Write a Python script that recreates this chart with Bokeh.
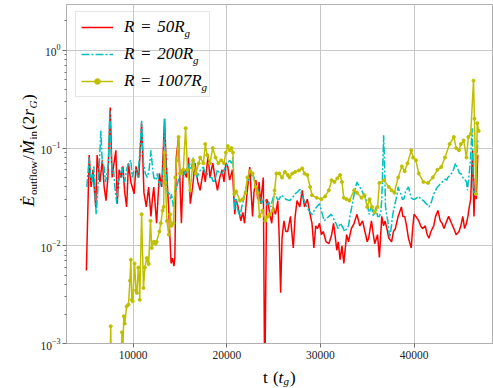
import math
from bokeh.plotting import figure
from bokeh.layouts import row, column
from bokeh.models import Range1d, FixedTicker, Label, Legend, LegendItem
from bokeh.embed import file_html
from bokeh.resources import INLINE

# ---------------- data ----------------
x_ticks = [10000, 20000, 30000, 40000]
y_ticks = [1e-3, 1e-2, 1e-1, 1.0]

labels = ["R\u2004=\u200450R", "R\u2004=\u2004200R", "R\u2004=\u20041007R"]

t50 = [5000, 5300, 5500, 5700, 6000, 6150, 6450, 6700, 6900, 7100,
       7300, 7550, 7750, 7950, 8150, 8300, 8500, 8700, 8900, 9100,
       9300, 9500, 9750, 10100, 10300, 10600, 10900, 11150, 11400, 11650,
       11900, 12050, 12200, 12500, 12800, 13050, 13350, 13500, 13780, 14050,
       14200, 14350, 14450, 14600, 14850, 15000, 15150, 15350, 15700, 15900,
       16100, 16350, 16600, 16900, 17150, 17500, 17700, 18000, 18200, 18500,
       18750, 19000, 19250, 19500, 19700, 19900, 20100, 20300, 20600, 20850,
       21000, 21200, 21500, 21700, 21900, 22100, 22450, 22600, 22750, 22900,
       23100, 23300, 23450, 23600, 23900, 24050, 24250, 24400, 24600, 24800,
       24950, 25200, 25450, 25600, 25750, 25900, 26100, 26300, 26500, 26800,
       27000, 27100, 27300, 27500, 27800, 28050, 28300, 28600, 28900, 29100,
       29300, 29500, 29700, 29900, 30100, 30300, 30600, 30900, 31200, 31400,
       31600, 31750, 31900, 32100, 32300, 32500, 32800, 33000, 33300, 33600,
       33900, 34200, 34500, 34750, 35000, 35150, 35450, 35650, 35800, 36100,
       36300, 36550, 36750, 36900, 37100, 37300, 37600, 37800, 38000, 38300,
       38650, 38800, 39000, 39200, 39400, 39700, 39850, 40000, 40200, 40500,
       40700, 40900, 41200, 41400, 41600, 41800, 42100, 42300, 42550, 42800,
       43000, 43200, 43500, 43700, 44000, 44250, 44500, 44800, 45000, 45200,
       45400, 45600, 45750, 45900, 46050, 46250, 46400, 46550, 46650, 46800]
e50 = [0.0056, 0.085, 0.04, 0.06, 0.025, 0.085, 0.045, 0.075, 0.04, 0.029,
       0.05, 0.26, 0.05, 0.07, 0.095, 0.027, 0.06, 0.05, 0.065, 0.035,
       0.025, 0.07, 0.045, 0.034, 0.065, 0.05, 0.18, 0.035, 0.025, 0.04,
       0.02, 0.03, 0.04, 0.017, 0.055, 0.04, 0.2, 0.08, 0.025, 0.0066,
       0.0075, 0.0062, 0.0075, 0.08, 0.13, 0.045, 0.017, 0.06, 0.05, 0.08,
       0.027, 0.04, 0.07, 0.045, 0.037, 0.06, 0.045, 0.085, 0.05, 0.07,
       0.05, 0.037, 0.05, 0.06, 0.045, 0.07, 0.065, 0.047, 0.06, 0.021,
       0.03, 0.025, 0.018, 0.022, 0.017, 0.03, 0.064, 0.035, 0.02, 0.035,
       0.047, 0.03, 0.045, 0.027, 0.05, 0.0003, 0.03, 0.028, 0.021, 0.017,
       0.025, 0.021, 0.029, 0.012, 0.0033, 0.012, 0.018, 0.014, 0.014, 0.02,
       0.012, 0.0095, 0.02, 0.029, 0.025, 0.037, 0.025, 0.03, 0.021, 0.017,
       0.0095, 0.016, 0.015, 0.017, 0.013, 0.014, 0.011, 0.0105, 0.013, 0.017,
       0.012, 0.009, 0.011, 0.0072, 0.01, 0.0066, 0.013, 0.011, 0.015, 0.017,
       0.021, 0.016, 0.018, 0.014, 0.011, 0.012, 0.018, 0.013, 0.0105, 0.013,
       0.0076, 0.02, 0.016, 0.018, 0.015, 0.012, 0.011, 0.014, 0.015, 0.02,
       0.025, 0.02, 0.02, 0.016, 0.012, 0.0095, 0.015, 0.021, 0.02, 0.018,
       0.016, 0.015, 0.016, 0.013, 0.012, 0.014, 0.016, 0.02, 0.023, 0.018,
       0.017, 0.015, 0.018, 0.02, 0.017, 0.015, 0.013, 0.014, 0.016, 0.02,
       0.015, 0.017, 0.02, 0.025, 0.03, 0.095, 0.02, 0.05, 0.03, 0.085]

t200 = [5050, 5300, 5450, 5600, 5800, 5950, 6050, 6200, 6350, 6550,
        6700, 6900, 7050, 7200, 7350, 7500, 7650, 7750, 7900, 8050,
        8250, 8400, 8550, 8800, 8950, 9100, 9300, 9500, 9750, 9900,
        10100, 10300, 10500, 10700, 10900, 11100, 11300, 11500, 11700, 11900,
        12050, 12200, 12400, 12600, 12800, 13000, 13200, 13350, 13500, 13650,
        13800, 14000, 14100, 14300, 14500, 14650, 14900, 15200, 15400, 15600,
        15800, 16000, 16200, 16400, 16600, 16800, 17000, 17200, 17500, 17700,
        17900, 18200, 18400, 18600, 18800, 19000, 19250, 19500, 19700, 19900,
        20100, 20300, 20500, 20650, 20850, 21000, 21100, 21250, 21400, 21600,
        21800, 22000, 22200, 22450, 22750, 22900, 23100, 23300, 23400, 23550,
        23700, 23900, 24100, 24300, 24500, 24700, 24900, 25100, 25200, 25400,
        25600, 25800, 26000, 26300, 26700, 27000, 27300, 27600, 27800, 28100,
        28400, 28650, 28900, 29100, 29350, 29600, 29900, 30150, 30400, 30650,
        30900, 31150, 31400, 31650, 31900, 32100, 32300, 32600, 32800, 33000,
        33150, 33350, 33500, 33700, 33900, 34050, 34200, 34400, 34650, 34900,
        35050, 35200, 35350, 35500, 35650, 35800, 35950, 36100, 36300, 36450,
        36550, 36650, 36750, 36850, 36950, 37100, 37200, 37400, 37550, 37700,
        37850, 38000, 38150, 38300, 38450, 38600, 38750, 38900, 39100, 39400,
        39550, 39700, 39900, 40100, 40300, 40500, 40750, 41000, 41300, 41600,
        41850, 42100, 42300, 42500, 42700, 42900, 43100, 43300, 43500, 43600,
        43800, 44000, 44200, 44450, 44700, 44850, 45000, 45200, 45400, 45600,
        45700, 45850, 46000, 46200, 46350, 46500, 46650, 46800]
e200 = [0.04, 0.08, 0.05, 0.044, 0.065, 0.03, 0.021, 0.035, 0.06, 0.15,
        0.07, 0.064, 0.045, 0.055, 0.07, 0.24, 0.09, 0.055, 0.06, 0.04,
        0.027, 0.045, 0.05, 0.064, 0.05, 0.045, 0.06, 0.07, 0.075, 0.05,
        0.06, 0.06, 0.05, 0.09, 0.19, 0.07, 0.055, 0.05, 0.06, 0.095,
        0.065, 0.05, 0.047, 0.055, 0.04, 0.045, 0.06, 0.2, 0.06, 0.034,
        0.036, 0.03, 0.034, 0.025, 0.035, 0.04, 0.05, 0.06, 0.05, 0.06,
        0.055, 0.07, 0.06, 0.08, 0.06, 0.05, 0.055, 0.06, 0.064, 0.055,
        0.055, 0.05, 0.05, 0.044, 0.05, 0.06, 0.055, 0.055, 0.06, 0.065,
        0.07, 0.075, 0.07, 0.08, 0.023, 0.03, 0.025, 0.022, 0.02, 0.025,
        0.03, 0.038, 0.045, 0.05, 0.055, 0.05, 0.04, 0.038, 0.035, 0.03,
        0.027, 0.03, 0.03, 0.026, 0.028, 0.025, 0.03, 0.034, 0.034, 0.03,
        0.03, 0.033, 0.032, 0.03, 0.029, 0.031, 0.034, 0.036, 0.038, 0.032,
        0.027, 0.024, 0.022, 0.021, 0.023, 0.025, 0.027, 0.022, 0.018, 0.019,
        0.02, 0.021, 0.019, 0.017, 0.015, 0.017, 0.016, 0.014, 0.015, 0.016,
        0.02, 0.025, 0.03, 0.038, 0.045, 0.042, 0.04, 0.037, 0.033, 0.03,
        0.025, 0.021, 0.024, 0.024, 0.02, 0.022, 0.025, 0.02, 0.02, 0.022,
        0.03, 0.06, 0.135, 0.07, 0.025, 0.02, 0.018, 0.012, 0.015, 0.02,
        0.024, 0.028, 0.032, 0.04, 0.036, 0.034, 0.03, 0.03, 0.036, 0.04,
        0.035, 0.031, 0.03, 0.03, 0.031, 0.032, 0.03, 0.029, 0.027, 0.025,
        0.028, 0.034, 0.037, 0.04, 0.042, 0.044, 0.046, 0.048, 0.047, 0.05,
        0.052, 0.055, 0.06, 0.07, 0.06, 0.055, 0.055, 0.05, 0.048, 0.045,
        0.037, 0.05, 0.07, 0.16, 0.034, 0.034, 0.05, 0.12]

t1007 = [7500, 7600, 7700, 8300, 8700, 8800, 8900, 9000, 9100, 9300,
         9500, 9650, 9750, 9850, 9950, 10150, 10300, 10400, 10550, 10650,
         10700, 10900, 11100, 11250, 11450, 11650, 11850, 11980, 12200, 12400,
         12500, 12800, 12950, 13150, 13250, 13350, 13450, 13600, 13800, 13950,
         14100, 14300, 14500, 14650, 14850, 15000, 15150, 15350, 15600, 15800,
         16100, 16400, 16700, 17000, 17150, 17500, 17700, 17900, 18200, 18500,
         18800, 19100, 19400, 19700, 19900, 20100, 20300, 20500, 20650, 20800,
         21000, 21400, 21700, 22000, 22200, 22500, 22750, 23100, 23300, 23500,
         23800, 24100, 24400, 24600, 24900, 25100, 25300, 25600, 25900, 26200,
         26500, 26700, 27000, 27300, 27700, 28050, 28300, 28600, 28900, 29100,
         29600, 30100, 30500, 30900, 31200, 31500, 31800, 32100, 32300, 32500,
         32800, 33100, 33600, 33900, 34400, 34700, 35000, 35250, 35500, 35800,
         36100, 36300, 36800, 37300, 37600, 37900, 38300, 38700, 39000, 39300,
         39700, 39900, 40200, 40500, 41000, 41500, 42000, 42500, 42900, 43300,
         43800, 44250, 44500, 44800, 45000, 45300, 45600, 45800, 46050, 46350,
         46450, 46600, 46750, 46900]
e1007 = [0.0004, 0.0015, 0.0004, 0.0005, 0.0004, 0.0013, 0.0009, 0.0019, 0.0016, 0.0024,
         0.0025, 0.0044, 0.0072, 0.0028, 0.0027, 0.0066, 0.0035, 0.0033, 0.006, 0.0045,
         0.0028, 0.021, 0.0037, 0.006, 0.0075, 0.0065, 0.018, 0.0095, 0.011, 0.0105,
         0.011, 0.014, 0.017, 0.023, 0.025, 0.09, 0.044, 0.018, 0.013, 0.021,
         0.016, 0.017, 0.05, 0.075, 0.13, 0.055, 0.055, 0.06, 0.16, 0.06,
         0.037, 0.075, 0.055, 0.07, 0.08, 0.07, 0.11, 0.085, 0.07, 0.1,
         0.08, 0.07, 0.075, 0.07, 0.09, 0.105, 0.095, 0.1, 0.09, 0.034,
         0.036, 0.029, 0.03, 0.035, 0.05, 0.058, 0.055, 0.04, 0.035, 0.02,
         0.023, 0.018, 0.02, 0.021, 0.023, 0.037, 0.055, 0.055, 0.05, 0.057,
         0.053, 0.05, 0.055, 0.057, 0.059, 0.062, 0.055, 0.053, 0.04, 0.033,
         0.031, 0.03, 0.032, 0.037, 0.047, 0.045, 0.049, 0.053, 0.045, 0.031,
         0.03, 0.029, 0.037, 0.035, 0.031, 0.033, 0.025, 0.03, 0.025, 0.022,
         0.025, 0.044, 0.047, 0.04, 0.037, 0.035, 0.05, 0.065, 0.058, 0.07,
         0.095, 0.08, 0.075, 0.055, 0.045, 0.044, 0.05, 0.06, 0.064, 0.08,
         0.11, 0.13, 0.1, 0.095, 0.11, 0.12, 0.08, 0.13, 0.14, 0.49,
         0.2, 0.034, 0.18, 0.15]

# ---------------- styling ----------------
SERIF = "'Liberation Serif', serif"
RED, CYAN, OLIVE = "#ff0000", "#00bfbf", "#bfbf00"

W, H = 493, 388
LEFT_W = 37          # strip holding the y-axis title
BOT_H = 22           # strip holding the x-axis title
MAIN_W, MAIN_H = W - LEFT_W, H - BOT_H
FRAME_L, FRAME_B = 62, 343   # page px of the data frame left / bottom

p = figure(width=MAIN_W, height=MAIN_H, output_backend="svg", toolbar_location=None,
           y_axis_type="log",
           x_range=Range1d(2878, 48486), y_range=Range1d(1e-3, 2.95),
           min_border_left=FRAME_L - LEFT_W, min_border_right=0, min_border_top=4,
           min_border_bottom=MAIN_H - FRAME_B,
           background_fill_color="white", border_fill_color="white")
p.outline_line_color = "#b0b0b0"
p.outline_line_width = 1

y_minor = [m * 10.0 ** e for e in range(-3, 1) for m in range(2, 10)]
p.xaxis.ticker = FixedTicker(ticks=x_ticks, minor_ticks=[])
p.yaxis.ticker = FixedTicker(ticks=y_ticks, minor_ticks=y_minor)
for ax in (p.xaxis[0], p.yaxis[0]):
    ax.axis_line_color = "#b0b0b0"
    ax.major_tick_line_color = "#707070"
    ax.minor_tick_line_color = "#707070"
    ax.major_tick_out = 4
    ax.major_tick_in = 0
    ax.minor_tick_out = 2
    ax.minor_tick_in = 0
    ax.major_label_text_font = SERIF
    ax.major_label_text_font_size = "11.5px"
    ax.major_label_text_color = "#222222"
p.xaxis.major_label_standoff = 3
p.yaxis.major_label_standoff = 2
p.grid.grid_line_color = "#c8c8c8"
p.grid.grid_line_width = 1

r1 = p.line(t50, e50, line_color=RED, line_width=1.5)
r2 = p.line(t200, e200, line_color=CYAN, line_width=1.5, line_dash="8 2 2 2")
r3 = p.line(t1007, e1007, line_color=OLIVE, line_width=1.5)
r3m = p.scatter(t1007, e1007, size=3, color=OLIVE)

legend = Legend(items=[LegendItem(label=labels[0], renderers=[r1]),
                       LegendItem(label=labels[1], renderers=[r2]),
                       LegendItem(label=labels[2], renderers=[r3, r3m])],
                location=(9, 246), margin=0, padding=5, spacing=7,
                glyph_width=32, glyph_height=14, label_height=20, label_width=80,
                label_standoff=11,
                label_text_font=SERIF, label_text_font_style="italic",
                label_text_font_size="17px", label_text_color="black",
                border_line_color="#cccccc", border_line_width=1,
                background_fill_color="white", background_fill_alpha=0.0,
                level="annotation")
p.add_layout(legend)


def lab(fig, ox, oy_bottom, text, cx, cy, size, italic=False, angle=0.0):
    """place a text piece at page pixel (cx, cy) inside fig whose frame starts at
    page x = ox and ends at page y = oy_bottom"""
    fig.add_layout(Label(x=cx - ox, y=oy_bottom - cy, x_units="screen", y_units="screen",
                         text=text, angle=angle, text_font=SERIF,
                         text_font_size=f"{size}px",
                         text_font_style="italic" if italic else "normal",
                         text_color="black", text_align="left",
                         text_baseline="alphabetic", level="overlay"))


# subscript g of the legend labels (inside the main frame)
for i, cx in enumerate([180.0, 188.5, 197.0]):
    lab(p, FRAME_L, FRAME_B, "g", cx, 32 + 27 * i, 11, italic=True)


def strip(w, h):
    f = figure(width=w, height=h, output_backend="svg", toolbar_location=None,
               x_range=Range1d(0, 1), y_range=Range1d(0, 1),
               x_axis_location=None, y_axis_location=None,
               min_border=0, background_fill_color="white", border_fill_color="white")
    f.outline_line_color = None
    f.grid.visible = False
    return f


# y-axis title  E_outflow / M_in (2 r_G), reading upwards
ly = strip(LEFT_W, MAIN_H)
A = math.pi / 2
bx, sbx = 28, 32
for text, cx, start, size, it in [("\u0116", bx, 114, 17, True),
                                  ("outflow", sbx, 125.5, 11, False),
                                  ("/", bx, 160.5, 17, False),
                                  ("\u1E40", bx, 166, 17, True),
                                  ("in", sbx, 181, 11, False),
                                  ("(2", bx, 190.5, 17, False),
                                  ("r", bx, 204.7, 17, True),
                                  ("G", sbx, 212, 11, True),
                                  (")", bx, 220.5, 17, False)]:
    lab(ly, 0, MAIN_H, text, cx, FRAME_B - start, size, it, A)

# x-axis title  t (t_g), in a strip spanning the full page width
lx = strip(W, BOT_H)
for text, cx, cy, size, it in [("t", 262.5, 377, 17, False),
                               ("(", 272.5, 377, 17, False),
                               ("t", 278, 377, 17, True),
                               ("g", 283, 380, 11, True),
                               (")", 289.5, 377, 17, False)]:
    lab(lx, 0, H, text, cx, cy, size, it)

layout = column(row(ly, p, spacing=0), lx, spacing=0)
open("out.html", "w").write(file_html(layout, INLINE))
